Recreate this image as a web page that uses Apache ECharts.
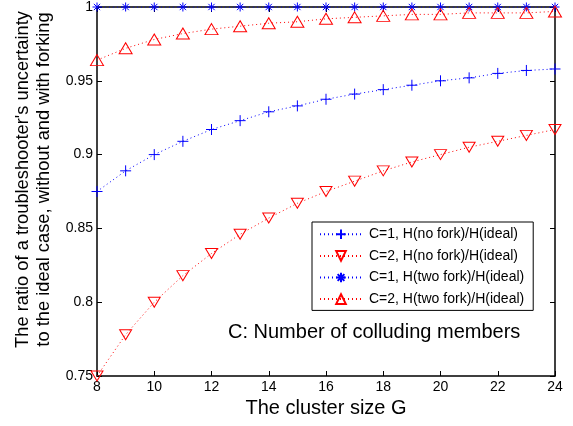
<!DOCTYPE html>
<html>
<head>
<meta charset="utf-8">
<script src="https://cdn.jsdelivr.net/npm/echarts@6/dist/echarts.min.js"></script>
<style>
  html, body { margin: 0; padding: 0; background: #fff; }
  #chart { width: 573px; height: 426px; }
</style>
</head>
<body>
<div id="chart"></div>
<script>
// cluster size G
const clusterSize = [8, 9, 10, 11, 12, 13, 14, 15, 16, 17, 18, 19, 20, 21, 22, 23, 24]

// ratios
const c1NoFork = [0.875, 0.889, 0.9, 0.909, 0.917, 0.923, 0.929, 0.933, 0.9375, 0.941, 0.944, 0.947, 0.95, 0.952, 0.955, 0.957, 0.958]
const c2NoFork = [0.75, 0.778, 0.8, 0.818, 0.833, 0.846, 0.857, 0.867, 0.875, 0.882, 0.889, 0.895, 0.9, 0.905, 0.909, 0.913, 0.917]
const c1TwoFork = [1, 1, 1, 1, 1, 1, 1, 1, 1, 1, 1, 1, 1, 1, 1, 1, 1]
const c2TwoFork = [0.964, 0.972, 0.978, 0.982, 0.985, 0.987, 0.989, 0.990, 0.992, 0.993, 0.994, 0.995, 0.995, 0.996, 0.996, 0.996, 0.997]

const seriesNames = [
  'C=1, H(no fork)/H(ideal)',
  'C=2, H(no fork)/H(ideal)',
  'C=1, H(two fork)/H(ideal)',
  'C=2, H(two fork)/H(ideal)'
]

const FONT = 'Liberation Sans, Arial, Helvetica, sans-serif'
const BLUE = '#0000ff'
const RED = '#ff0000'

const plusPath = 'path://M5,0L5,10M0,5L10,5'
const starPath = 'path://M5,0L5,10M0,5L10,5M1.5,1.5L8.5,8.5M1.5,8.5L8.5,1.5'
const triPath = 'path://M5,0L10,9L0,9Z'
const triDownPath = 'path://M0,0L10,0L5,9Z'

function pairs(ys) {
  return clusterSize.map((x, i) => [x, ys[i]])
}

function makeSeries(name, ys, color, symbol, size) {
  return {
    name: name,
    type: 'line',
    data: pairs(ys),
    symbol: symbol,
    symbolSize: size,
    showAllSymbol: true,
    lineStyle: { color: color, width: 1, type: [1, 3] },
    itemStyle: { color: 'none', borderColor: color, borderWidth: 1 },
    emphasis: { disabled: true },
    animation: false,
    z: 3
  }
}

const chart = echarts.init(document.getElementById('chart'))

const boxAxis = {
  axisLine: { show: true, lineStyle: { color: '#000', width: 1.5 } },
  axisTick: { show: true, inside: true, length: 5, lineStyle: { color: '#000' } },
  axisLabel: { show: false },
  splitLine: { show: false }
}

chart.setOption({
  backgroundColor: '#fff',
  animation: false,
  textStyle: { fontFamily: FONT },
  grid: { left: 97, right: 18, top: 5, bottom: 50 },
  legend: {
    orient: 'vertical',
    left: 312,
    top: 222,
    padding: [5, 9, 4, 7],
    itemGap: 7,
    itemWidth: 42,
    itemHeight: 12,
    borderColor: '#000',
    borderWidth: 1,
    backgroundColor: '#fff',
    selectedMode: false,
    textStyle: { fontFamily: FONT, fontSize: 14, color: '#000', padding: [0, 0, 0, 2] },
    data: seriesNames
  },
  xAxis: [
    {
      type: 'value',
      min: 8,
      max: 24,
      interval: 2,
      name: 'The cluster size G',
      nameLocation: 'middle',
      nameGap: 21,
      nameTextStyle: { fontFamily: FONT, fontSize: 20, color: '#000' },
      axisLine: { show: true, lineStyle: { color: '#000', width: 1.5 } },
      axisTick: { show: true, inside: true, length: 5, lineStyle: { color: '#000' } },
      axisLabel: { fontFamily: FONT, fontSize: 14, color: '#000', margin: 4 },
      splitLine: { show: false }
    },
    Object.assign({ type: 'value', position: 'top', min: 8, max: 24, interval: 2 }, boxAxis)
  ],
  yAxis: [
    {
      type: 'value',
      min: 0.75,
      max: 1,
      interval: 0.05,
      name: "The ratio of a troubleshooter's uncertainty\nto the ideal case, without and with forking",
      nameLocation: 'middle',
      nameGap: 42,
      nameTextStyle: { fontFamily: FONT, fontSize: 18.3, color: '#000', lineHeight: 21, padding: [0, 0, 0, 24] },
      axisLine: { show: true, lineStyle: { color: '#000', width: 1.5 } },
      axisTick: { show: true, inside: true, length: 5, lineStyle: { color: '#000' } },
      axisLabel: { fontFamily: FONT, fontSize: 14, color: '#000', margin: 4 },
      splitLine: { show: false }
    },
    Object.assign({ type: 'value', position: 'right', min: 0.75, max: 1, interval: 0.05 }, boxAxis)
  ],
  graphic: [
    {
      type: 'text',
      left: 228,
      top: 322,
      z: 10,
      style: {
        text: 'C: Number of colluding members',
        fontFamily: FONT,
        fontSize: 20,
        fill: '#000'
      }
    }
  ],
  series: [
    makeSeries(seriesNames[0], c1NoFork, BLUE, plusPath, 11),
    makeSeries(seriesNames[1], c2NoFork, RED, triDownPath, [12, 10]),
    makeSeries(seriesNames[2], c1TwoFork, BLUE, starPath, 9),
    makeSeries(seriesNames[3], c2TwoFork, RED, triPath, [13, 11])
  ]
})

window.addEventListener('resize', () => chart.resize())
</script>
</body>
</html>
